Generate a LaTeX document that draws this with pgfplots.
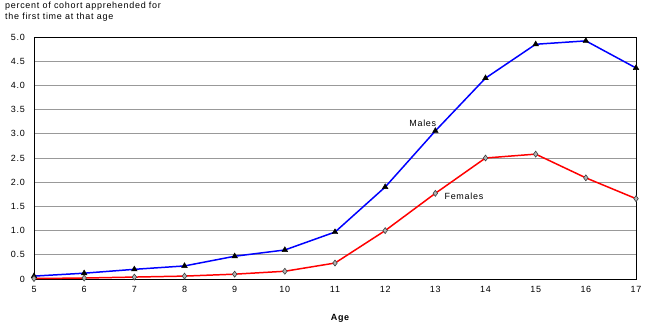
\documentclass[border=0pt]{standalone}
\usepackage{pgfplots}
\pgfplotsset{compat=1.18}
\usepackage{fontspec}
\setmainfont[LetterSpace=8]{Liberation Sans}
\begin{document}
\begin{tikzpicture}[x=1bp,y=1bp]
\fontsize{9}{10}\selectfont
\begin{axis}[
  at={(0,0)}, anchor=south west,
  scale only axis, width=602bp, height=242bp,
  xmin=5, xmax=17, ymin=0, ymax=5,
  xtick={5,...,17},
  xticklabels={5,6,7,8,9,10,11,12,13,14,15,16,17},
  ytick={0,0.5,1,1.5,2,2.5,3,3.5,4,4.5,5},
  yticklabels={0,0.5,1.0,1.5,2.0,2.5,3.0,3.5,4.0,4.5,5.0},
  major tick length=0pt,
  ymajorgrids, grid style={gray!80, line width=0.7pt},
  axis line style={black, line width=0.9pt},
  tick label style={font=\fontsize{9}{10}\selectfont},
  xticklabel style={yshift=-4bp},
  yticklabel style={xshift=-6bp},
  clip=false,
]
\addplot[blue, line width=1.5pt, mark=triangle*, mark size=3.3pt,
  mark options={fill=black, draw=black, line width=0.4pt}]
  coordinates {(5,0.06) (6,0.12) (7,0.20) (8,0.27) (9,0.47) (10,0.60)
    (11,0.97) (12,1.90) (13,3.06) (14,4.15) (15,4.85) (16,4.92) (17,4.36)};
\addplot[red, line width=1.5pt, mark=diamond*, mark size=3pt,
  mark options={fill=gray!60, draw=black!75, line width=0.6pt}]
  coordinates {(5,0.01) (6,0.02) (7,0.04) (8,0.06) (9,0.10) (10,0.16)
    (11,0.33) (12,1.00) (13,1.77) (14,2.50) (15,2.58) (16,2.09) (17,1.66)};
\node[font=\fontsize{9}{10}\selectfont] at (axis cs:12.75,3.22) {Males};
\node[font=\fontsize{9}{10}\selectfont] at (axis cs:13.57,1.71) {Females};
\end{axis}
\node[anchor=north west, align=left, inner sep=0pt,
  font=\fontsize{9}{10.5}\selectfont] at (-29,277) {percent of cohort apprehended for\\the first time at that age};
\node[font=\bfseries\fontsize{9}{10}\selectfont] at (306,-39) {Age};
\pgfresetboundingbox
\path (-34,-50) rectangle (616,279);
\end{tikzpicture}
\end{document}
